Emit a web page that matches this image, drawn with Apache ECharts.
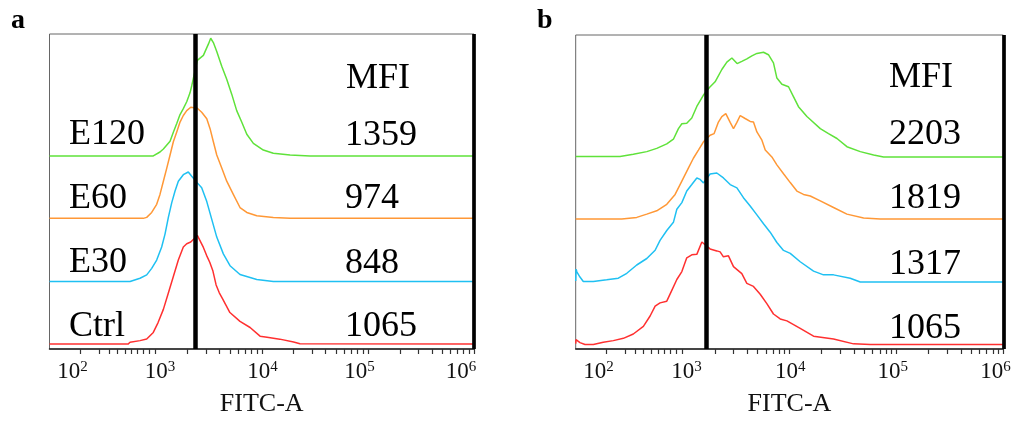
<!DOCTYPE html>
<html><head><meta charset="utf-8">
<script src="https://cdn.jsdelivr.net/npm/echarts@6/dist/echarts.min.js"></script>
<style>html,body{margin:0;padding:0;background:#fff}#c{width:1014px;height:422px}</style>
</head><body><div id="c"></div>
<script>
// x: FITC-A on the cytometer's log display scale (decades, 3 = 10^3); y: event count height (display units)
const sampleNames = ['Ctrl', 'E30', 'E60', 'E120'];
const mfiA = [1065, 848, 974, 1359];
const mfiB = [1065, 1317, 1819, 2203];
const gateA = 3.365;
const gateB = 3.224;
const offsetsA = [5, 68.5, 132.5, 195.8];
const offsetsB = [4.5, 68, 131.8, 194.8];

const aCtrl = [[2.0,0],[2.74,0],[2.759,1.8],[2.853,3.5],[2.916,5.2],[2.978,11.8],[3.023,21.8],[3.073,35.2],[3.120,51.8],[3.167,68.5],[3.214,85.2],[3.261,98.5],[3.293,101.8],[3.331,103.5],[3.393,110.2],[3.450,98],[3.48,90],[3.51,83],[3.54,74],[3.57,60],[3.60,52],[3.63,46],[3.66,40],[3.70,32],[3.795,23],[3.890,16.8],[3.984,8],[4.05,7],[4.17,5],[4.30,2],[4.36,0.3],[6.0,0]];
const aE30 = [[2.0,0],[2.759,0],[2.775,1.7],[2.853,3.3],[2.916,6.7],[2.963,13.3],[3.010,21.7],[3.057,35],[3.089,48.3],[3.120,65],[3.152,80],[3.183,91.7],[3.214,101.7],[3.261,108.3],[3.308,111],[3.340,106.7],[3.393,100],[3.434,95],[3.482,81],[3.529,63],[3.576,45],[3.638,28],[3.701,16],[3.795,7],[3.953,2],[4.109,0],[6.0,0]];
const aE60 = [[2.0,0],[2.884,0],[2.916,1],[2.963,6],[3.010,14.3],[3.041,24.3],[3.073,37.7],[3.105,51],[3.136,64.3],[3.167,77.7],[3.199,87.7],[3.230,97.7],[3.261,104.3],[3.293,109.3],[3.331,112.7],[3.393,111.7],[3.434,107.7],[3.482,101],[3.513,91],[3.544,77.7],[3.576,64.3],[3.623,51],[3.670,37.7],[3.732,24.3],[3.795,11],[3.859,6],[3.953,2.7],[4.109,1],[4.267,0],[6.0,0]];
const aE120 = [[2.0,0],[2.978,0],[2.994,1],[3.041,4],[3.073,7],[3.089,9],[3.136,15],[3.167,24],[3.199,33],[3.230,42],[3.261,48],[3.293,55],[3.324,64],[3.340,71],[3.393,97],[3.450,102],[3.497,113.4],[3.519,119.4],[3.544,115],[3.576,106],[3.623,91],[3.670,77.7],[3.717,62.7],[3.764,46],[3.811,34.4],[3.859,22],[3.921,12.7],[4.015,6],[4.109,2.7],[4.267,1],[4.455,0],[6.0,0]];

const bCtrl = [[2.0,1],[2.003,5],[2.04,2],[2.087,0],[2.165,0],[2.258,2.3],[2.352,4],[2.446,6.3],[2.539,10.7],[2.633,18.5],[2.696,29],[2.743,39],[2.789,42.3],[2.852,44],[2.899,55],[2.946,66],[2.993,74],[3.039,88],[3.086,91],[3.133,91.5],[3.180,104],[3.257,97],[3.320,95],[3.351,94],[3.382,89],[3.429,90],[3.476,79],[3.554,72],[3.601,62],[3.663,59],[3.726,51],[3.788,41.5],[3.850,31],[3.913,26],[3.976,24],[4.100,16.5],[4.225,8.5],[4.412,5.7],[4.599,0.7],[4.756,0],[6.0,0]];
const bE30 = [[2.0,1],[2.003,13],[2.012,10],[2.040,5],[2.071,0.5],[2.165,0.5],[2.290,2.2],[2.399,3.8],[2.478,8.8],[2.571,17.2],[2.665,23.8],[2.743,32.2],[2.789,42.2],[2.852,52.2],[2.914,60.5],[2.946,73.8],[2.993,80.5],[3.039,92.2],[3.086,98.8],[3.133,105.5],[3.164,104],[3.195,100.5],[3.257,109.5],[3.320,110.5],[3.382,105.5],[3.445,98.8],[3.508,95.5],[3.569,85.5],[3.632,77],[3.695,68],[3.757,59],[3.819,50.5],[3.882,40],[3.944,32],[4.007,29],[4.100,20.5],[4.225,11],[4.318,7.2],[4.412,7.2],[4.568,3.8],[4.662,0],[6.0,0]];
const bE60 = [[2.0,0],[2.431,0],[2.571,1.7],[2.665,5],[2.758,8.4],[2.852,15],[2.930,25],[2.993,38.4],[3.054,51.7],[3.101,61.7],[3.148,70],[3.195,78.4],[3.257,85],[3.295,86.7],[3.335,98.4],[3.367,104],[3.404,107],[3.445,98],[3.476,91.7],[3.508,98],[3.539,105],[3.585,102],[3.632,99],[3.663,98.4],[3.695,88.4],[3.742,80],[3.773,70],[3.835,63],[3.882,55],[3.944,46],[4.007,37],[4.069,28.4],[4.131,25],[4.194,23.4],[4.288,18.4],[4.412,11.7],[4.537,5],[4.693,1],[4.849,0],[6.0,0]];
const bE120 = [[2.0,0.5],[2.415,0.5],[2.539,2.7],[2.665,5.4],[2.758,8.7],[2.852,13.2],[2.914,18],[2.961,28.7],[2.993,33.7],[3.039,34.2],[3.086,39.5],[3.133,51.2],[3.195,62.8],[3.251,70.4],[3.304,76.2],[3.367,88.7],[3.414,96.2],[3.461,100.4],[3.510,94.7],[3.554,97],[3.601,99.5],[3.648,102.5],[3.695,105],[3.757,106.2],[3.803,103.7],[3.850,95.4],[3.882,80],[3.929,73.7],[3.991,71.2],[4.037,61.2],[4.084,51],[4.163,41],[4.194,38],[4.288,28.7],[4.365,23.7],[4.444,18.7],[4.537,10.4],[4.662,5.4],[4.787,2],[4.880,0],[6.0,0]];

// axis ticks (display scale) and tick labels
const lowDecadeTicks = [2.29, 2.465, 2.56, 2.635, 2.71, 2.77, 2.825, 2.88, 2.94];
const tickDecades = [3, 4, 5];
const tickMultipliers = [1, 2, 3, 4, 5, 6, 7, 8, 9];
const tickExponents = ['2', '3', '4', '5', '6'];
const labelPosA = [2.217, 3.041, 4.008, 4.922, 5.878];
const labelPosB = [2.213, 3.037, 4.007, 4.966, 5.926];

const colors = ['#ff3030', '#1fc0f2', '#ff9836', '#5fe23a'];
const FONT = '"Liberation Serif", "Times New Roman", serif';

const ticks = lowDecadeTicks.slice();
tickDecades.forEach(d => tickMultipliers.forEach(m => ticks.push(d + Math.log10(m))));
ticks.push(6);

const panels = [
  {series: [aCtrl, aE30, aE60, aE120], offsets: offsetsA, gate: gateA, labelPos: labelPosA,
   grid: {left: 49.5, top: 34, width: 424.5, height: 319.5}},
  {series: [bCtrl, bE30, bE60, bE120], offsets: offsetsB, gate: gateB, labelPos: labelPosB,
   grid: {left: 575.7, top: 35, width: 427.6, height: 318.5}}
];

const grid = [], xAxis = [], yAxis = [], series = [];
panels.forEach((p, i) => {
  grid.push(Object.assign({show: true, borderColor: '#666', borderWidth: 1, backgroundColor: 'transparent'}, p.grid));
  xAxis.push({
    type: 'value', gridIndex: i, min: 2, max: 6,
    name: 'FITC-A', nameLocation: 'middle', nameGap: 42,
    nameTextStyle: {fontFamily: FONT, fontSize: 26, color: '#111'},
    axisLine: {show: true, lineStyle: {color: '#222', width: 1.5}},
    axisTick: {show: true, customValues: ticks, length: 5, lineStyle: {color: '#333', width: 1.2}},
    splitLine: {show: false},
    axisLabel: {
      customValues: p.labelPos, margin: 11, hideOverlap: false,
      formatter: (v, idx) => {
        let k = 0, best = 1e9;
        p.labelPos.forEach((q, j) => { if (Math.abs(q - v) < best) { best = Math.abs(q - v); k = j; } });
        return '{b|10}{s|' + tickExponents[k] + '}';
      },
      rich: {
        b: {fontFamily: FONT, fontSize: 23, color: '#111', lineHeight: 23},
        s: {fontFamily: FONT, fontSize: 15, color: '#111', verticalAlign: 'top', lineHeight: 15}
      }
    }
  });
  yAxis.push({type: 'value', gridIndex: i, min: 0, max: p.grid.height, show: false, splitLine: {show: false}});
  p.series.forEach((arr, k) => {
    series.push({
      type: 'line', name: sampleNames[k], xAxisIndex: i, yAxisIndex: i,
      data: arr.map(d => [d[0], d[1] + p.offsets[k]]),
      showSymbol: false, symbol: 'none', silent: true,
      lineStyle: {color: colors[k], width: 1.5}, z: 2
    });
  });
  series.push({
    type: 'line', xAxisIndex: i, yAxisIndex: i, data: [], silent: true, z: 5,
    markLine: {
      symbol: 'none', silent: true, label: {show: false}, animation: false,
      data: [
        {xAxis: p.gate, lineStyle: {color: '#000', width: 4.5, type: 'solid'}},
        {xAxis: 6, lineStyle: {color: '#000', width: 3.7, type: 'solid'}}
      ]
    }
  });
});

function txt(s, x, baseline, size, bold) {
  return {type: 'text', x: x, y: baseline - 0.3375 * size, z: 10, silent: true,
    style: {text: s, font: (bold ? 'bold ' : '') + size + 'px ' + FONT, fill: '#000',
      verticalAlign: 'middle', textVerticalAlign: 'middle', align: 'left'}};
}
const namesBaselineA = [338.5, 274.5, 210.5, 147];
const mfiBaselineA = [338.5, 275.5, 211, 148];
const mfiBaselineB = [341, 277, 211, 147];
const graphic = [txt('a', 11, 30, 28, true), txt('b', 537, 30, 28, true),
  txt('MFI', 346, 90.5, 36), txt('MFI', 889, 89.5, 36)];
sampleNames.forEach((n, k) => {
  graphic.push(txt(n, 69, namesBaselineA[k], 36));
  graphic.push(txt(String(mfiA[k]), 345, mfiBaselineA[k], 36));
  graphic.push(txt(String(mfiB[k]), 889, mfiBaselineB[k], 36));
});

const chart = echarts.init(document.getElementById('c'), null, {renderer: 'canvas'});
chart.setOption({animation: false, backgroundColor: '#fff', grid, xAxis, yAxis, series, graphic});
</script></body></html>
